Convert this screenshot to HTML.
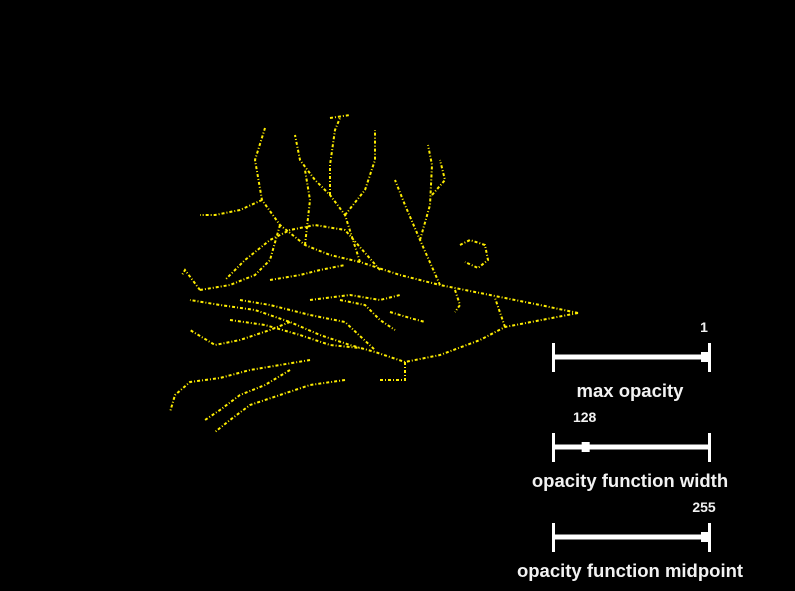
<!DOCTYPE html>
<html><head><meta charset="utf-8"><style>
html,body{margin:0;padding:0;background:#000;width:795px;height:591px;overflow:hidden}
svg{position:absolute;left:0;top:0}
text{font-family:"Liberation Sans",sans-serif;font-weight:bold;fill:#f2f2f2}
</style></head><body>
<svg width="795" height="591">
<g id="neuron" stroke="#ffee00" fill="none" stroke-width="2" stroke-dasharray="3 2 1 2"></g>
<g id="sliders"></g>
</svg>
<script>
// branch skeletons (image coords)
const branches = [
[[578,313],[540,305],[495,296],[440,285],[400,275],[360,262],[330,255],[305,245],[280,225],[262,200],[255,160],[265,128]],
[[578,313],[505,327],[480,340],[440,355],[405,362],[375,352],[350,345],[320,335],[290,322],[255,310],[220,305],[190,300]],
[[505,327],[495,298]],
[[405,362],[405,380],[380,380]],
[[440,285],[420,240],[405,205],[395,180]],
[[420,240],[430,205],[432,165],[428,145]],
[[432,195],[445,180],[440,160]],
[[360,262],[345,215],[330,195],[315,180],[300,160],[295,135]],
[[345,215],[365,190],[375,160],[375,130]],
[[330,195],[330,165],[335,130],[340,118]],
[[330,118],[350,115]],
[[305,245],[310,200],[305,170]],
[[380,270],[345,230],[315,225],[290,230],[270,240],[245,260],[225,280]],
[[262,200],[240,210],[215,215],[200,215]],
[[280,225],[270,260],[255,275],[230,285],[200,290]],
[[310,300],[350,295],[380,300],[400,295]],
[[240,300],[270,305],[310,315],[345,322],[375,350]],
[[290,322],[270,330],[240,340],[215,345],[190,330]],
[[310,360],[280,365],[250,370],[220,378],[190,382],[175,395],[170,412]],
[[345,380],[310,385],[280,395],[250,405],[230,420],[215,432]],
[[290,370],[265,385],[240,395],[220,410],[205,420]],
[[200,290],[185,270],[182,275]],
[[460,245],[470,240],[485,245],[488,260],[478,268],[465,262]],
[[340,300],[365,305],[380,320],[395,330]],
[[270,280],[300,275],[320,270],[345,265]],
[[390,312],[410,318],[425,322]],
[[455,290],[460,305],[455,312]],
[[230,320],[265,325],[300,335],[330,345],[360,348]]
];
const g=document.getElementById('neuron');
const NS='http://www.w3.org/2000/svg';
branches.forEach((b,i)=>{
 const p=document.createElementNS(NS,'polyline');
 p.setAttribute('points',b.map(q=>q.join(',')).join(' '));
 
 
 g.appendChild(p);
});

// sliders
const sliderLabels=["max opacity","opacity function width","opacity function midpoint"];
const sliderValues=[1,128,255];
const sliderMins=[0,0,0];
const sliderMaxs=[1,680,255];
const sliderValueText=["1","128","255"];
const sg=document.getElementById('sliders');
const x0=554,x1=709;
sliderLabels.forEach((lab,i)=>{
 const y=357+i*90;
 const grp=document.createElementNS(NS,'g');
 
 
 const r=(x,yy,w,h)=>{const e=document.createElementNS(NS,'rect');e.setAttribute('x',x);e.setAttribute('y',yy);e.setAttribute('width',w);e.setAttribute('height',h);e.setAttribute('fill','#fff');grp.appendChild(e);return e;};
 const t1=r(x0,y-2.5,x1-x0,5);
 
 
 const c1=r(x0-2,y-14,3,29);
 
 
 const c2=r(x1-1,y-14,3,29);
 
 
 const hx=x0+(x1-x0-8)*(sliderValues[i]-sliderMins[i])/(sliderMaxs[i]-sliderMins[i]);
 const h=r(hx,y-5,8,10);
 
 
 const v=document.createElementNS(NS,'text');
 v.setAttribute('x',hx+3);v.setAttribute('y',y-25);v.setAttribute('text-anchor','middle');v.setAttribute('font-size','14');
 v.textContent=sliderValueText[i];
 
 
 grp.appendChild(v);
 const l=document.createElementNS(NS,'text');
 l.setAttribute('x',630);l.setAttribute('y',y+40);l.setAttribute('text-anchor','middle');l.setAttribute('font-size','18.5');
 l.textContent=lab;
 
 
 grp.appendChild(l);
 sg.appendChild(grp);
});
</script>
</body></html>
